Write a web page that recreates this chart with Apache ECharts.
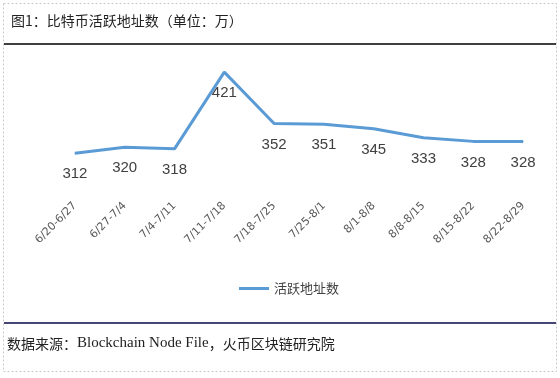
<!DOCTYPE html>
<html>
<head>
<meta charset="utf-8">
<script src="https://cdn.jsdelivr.net/npm/echarts@6/dist/echarts.min.js"></script>
<style>
  html, body { margin: 0; padding: 0; background: #fff; }
  #main { width: 560px; height: 378px; }
</style>
</head>
<body>
<div id="main"></div>
<script>
// 周区间
const weeks = ['6/20-6/27', '6/27-7/4', '7/4-7/11', '7/11-7/18', '7/18-7/25',
  '7/25-8/1', '8/1-8/8', '8/8-8/15', '8/15-8/22', '8/22-8/29'];
// 活跃地址数（万）
const activeAddr = [312, 320, 318, 421, 352, 351, 345, 333, 328, 328];

const seriesName = '活跃地址数';
const titleText = '图1：比特币活跃地址数（单位：万）';

const cjk = '"Noto Sans CJK SC", "Noto Sans", sans-serif';

const chart = echarts.init(document.getElementById('main'));

chart.setOption({
  animation: false,
  backgroundColor: '#fff',
  grid: { left: 50, right: 12, top: 58, height: 134 },
  legend: {
    data: [seriesName],
    left: 234, top: 277,
    itemWidth: 30, itemHeight: 3,
    icon: 'rect',
    itemStyle: { color: '#5b9bd5' },
    textStyle: { fontFamily: cjk, fontSize: 13, color: '#404040' }
  },
  xAxis: {
    type: 'category',
    data: weeks,
    axisLine: { show: false },
    axisTick: { show: false },
    axisLabel: {
      rotate: 45, margin: 12, interval: 0,
      fontFamily: 'DejaVu Sans', fontSize: 11, color: '#595959'
    }
  },
  yAxis: {
    type: 'value', min: 260, max: 440,
    show: false, splitLine: { show: false }
  },
  graphic: [
    // 外框
    { type: 'rect', shape: { x: 3.5, y: 3.5, width: 553, height: 368 },
      style: { fill: null, stroke: '#c8c8c8', lineDash: [2, 2], lineWidth: 1 } },
    { type: 'line', shape: { x1: 4, y1: 44, x2: 556, y2: 44 },
      style: { stroke: '#000', lineWidth: 1.5 } },
    { type: 'line', shape: { x1: 4, y1: 323, x2: 556, y2: 323 },
      style: { stroke: '#0a0a4a', lineWidth: 1.5 } },
    { type: 'text', left: 11, top: 14,
      style: { text: titleText, font: '14px ' + cjk, fill: '#222' } },
    { type: 'text', left: 7, top: 336,
      style: {
        text: '{a|数据来源：}{b|Blockchain Node File}{a|，火币区块链研究院}',
        rich: {
          a: { fontFamily: cjk, fontSize: 14, fill: '#222' },
          b: { fontFamily: '"Liberation Serif", serif', fontSize: 15, fill: '#222' }
        }
      } }
  ],
  series: [{
    name: seriesName,
    type: 'line',
    data: activeAddr,
    symbol: 'circle',
    symbolSize: 1,
    lineStyle: { color: '#5b9bd5', width: 3 },
    itemStyle: { color: '#5b9bd5' },
    label: {
      show: true, position: 'bottom', distance: 13,
      fontFamily: '"Liberation Sans", sans-serif', fontSize: 15, color: '#404040'
    }
  }]
});
</script>
</body>
</html>
